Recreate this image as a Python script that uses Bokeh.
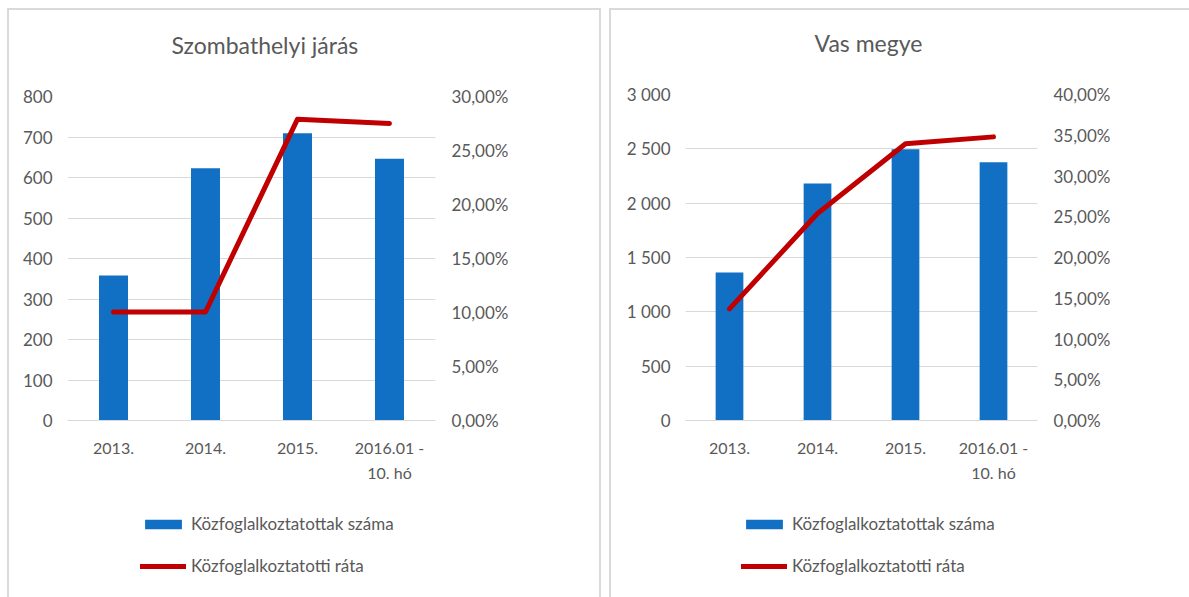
from bokeh.plotting import figure
from bokeh.models import (Range1d, LinearAxis, FixedTicker, Legend, LegendItem,
                          Title, ColumnDataSource, FactorRange)
from bokeh.layouts import row, column
from bokeh.embed import file_html
from bokeh.resources import INLINE

categories = ["2013.", "2014.", "2015.", "2016.01 -\n10. hó"]
series_names = ["Közfoglalkoztatottak száma", "Közfoglalkoztatotti ráta"]

szomb_title = "Szombathelyi járás"
szomb_counts = [358, 623, 709, 646]
szomb_rate = [0.1005, 0.1005, 0.279, 0.275]
szomb_count_ticks = [0, 100, 200, 300, 400, 500, 600, 700, 800]
szomb_count_labels = ["0", "100", "200", "300", "400", "500", "600", "700", "800"]
szomb_rate_ticks = [0.0, 0.05, 0.10, 0.15, 0.20, 0.25, 0.30]
szomb_rate_labels = ["0,00%", "5,00%", "10,00%", "15,00%", "20,00%", "25,00%", "30,00%"]

vas_title = "Vas megye"
vas_counts = [1362, 2181, 2497, 2377]
vas_rate = [0.137, 0.254, 0.3395, 0.348]
vas_count_ticks = [0, 500, 1000, 1500, 2000, 2500, 3000]
vas_count_labels = ["0", "500", "1 000", "1 500", "2 000", "2 500", "3 000"]
vas_rate_ticks = [0.0, 0.05, 0.10, 0.15, 0.20, 0.25, 0.30, 0.35, 0.40]
vas_rate_labels = ["0,00%", "5,00%", "10,00%", "15,00%", "20,00%", "25,00%",
                   "30,00%", "35,00%", "40,00%"]

FONT = "Lato"
TXT = "#595959"
GRID = "#d9d9d9"
BLUE = "#1170C4"
RED = "#C00000"
BORDER = "2px solid #d9d9d9"


def make_chart(title, counts, rate, cticks, clabels, rticks, rlabels,
               width, mb_left, mb_right, mb_top, frame_h, title_offset, legend_x,
               top_styles, bottom_styles, margin):
    src = ColumnDataSource(dict(cat=categories, count=counts, rate=rate))
    chart_h = 490
    p = figure(x_range=FactorRange(*categories), y_range=Range1d(cticks[0], cticks[-1]),
               width=width, height=chart_h, output_backend="svg", toolbar_location=None,
               min_border_left=mb_left, min_border_right=mb_right,
               min_border_top=mb_top, min_border_bottom=chart_h - mb_top - frame_h)
    p.styles = top_styles
    p.outline_line_color = None
    p.background_fill_color = "white"
    p.border_fill_color = "white"

    # spacer title, then the real title (outermost)
    p.add_layout(Title(text=" ", text_font_size="17px", text_font=FONT), "above")
    p.title.text = title
    p.title.text_font = FONT
    p.title.text_font_size = "23px"
    p.title.text_font_style = "normal"
    p.title.text_color = TXT
    p.title.align = "left"
    p.title.offset = title_offset

    p.extra_y_ranges = {"rate": Range1d(rticks[0], rticks[-1])}
    raxis = LinearAxis(y_range_name="rate")
    p.add_layout(raxis, "right")

    laxis = p.yaxis[0]
    laxis.ticker = FixedTicker(ticks=cticks)
    laxis.major_label_overrides = {t: l for t, l in zip(cticks, clabels)}
    raxis.ticker = FixedTicker(ticks=rticks)
    raxis.major_label_overrides = {t: l for t, l in zip(rticks, rlabels)}
    for ax in (laxis, raxis):
        ax.axis_line_color = None
        ax.major_tick_line_color = None
        ax.minor_tick_line_color = None
        ax.major_label_text_font = FONT
        ax.major_label_text_font_size = "17px"
        ax.major_label_text_color = TXT
    laxis.major_label_standoff = 9
    raxis.major_label_standoff = 10

    xa = p.xaxis[0]
    xa.axis_line_color = GRID
    xa.axis_line_width = 1
    xa.major_tick_line_color = None
    xa.minor_tick_line_color = None
    xa.major_label_text_font = FONT
    xa.major_label_text_font_size = "16px"
    xa.major_label_text_color = TXT
    xa.major_label_standoff = 11
    xa.major_label_text_line_height = 1.35

    p.xgrid.grid_line_color = None
    p.ygrid.ticker = FixedTicker(ticks=cticks)
    p.ygrid.grid_line_color = GRID
    p.ygrid.grid_line_width = 1

    p.vbar(x="cat", top="count", width=0.315, source=src,
           fill_color=BLUE, line_color=None)
    p.line(x="cat", y="rate", source=src, y_range_name="rate",
           line_color=RED, line_width=5, line_cap="round", line_join="round")

    # legend panel: the same series again, kept outside this panel's visible range,
    # so that only their legend key shows
    leg_h = 589 - chart_h
    q = figure(x_range=FactorRange(*categories), y_range=Range1d(1e6, 1e6 + 1),
               width=width, height=leg_h, output_backend="svg", toolbar_location=None,
               x_axis_location=None, y_axis_location=None,
               min_border_left=0, min_border_right=0, min_border_top=0, min_border_bottom=0)
    q.styles = bottom_styles
    q.outline_line_color = None
    q.grid.grid_line_color = None
    q.border_fill_color = "white"
    lb = q.vbar(x="cat", top="count", width=0.315, source=src,
                fill_color=BLUE, line_color=None)
    ll = q.line(x="cat", y="rate", source=src,
                line_color=RED, line_width=5, line_cap="round", line_join="round")
    legend = Legend(items=[LegendItem(label=series_names[0], renderers=[lb]),
                           LegendItem(label=series_names[1], renderers=[ll])],
                    location=(legend_x, 21), orientation="vertical",
                    glyph_width=46, glyph_height=12, label_height=12,
                    label_standoff=5, spacing=21, padding=0, margin=0,
                    border_line_color=None, background_fill_alpha=0,
                    label_text_font=FONT, label_text_font_size="17px",
                    label_text_color=TXT)
    q.add_layout(legend, "center")
    return column(p, q, spacing=0, margin=margin)


c1 = make_chart(szomb_title, szomb_counts, szomb_rate, szomb_count_ticks, szomb_count_labels,
                szomb_rate_ticks, szomb_rate_labels,
                width=594, mb_left=58, mb_right=168, mb_top=86, frame_h=324,
                title_offset=104, legend_x=73,
                top_styles={"border-top": BORDER, "border-left": BORDER, "border-right": BORDER},
                bottom_styles={"border-left": BORDER, "border-right": BORDER},
                margin=(8, 0, 0, 7))
c2 = make_chart(vas_title, vas_counts, vas_rate, vas_count_ticks, vas_count_labels,
                vas_rate_ticks, vas_rate_labels,
                width=580, mb_left=74, mb_right=154, mb_top=84, frame_h=326,
                title_offset=129, legend_x=56,
                top_styles={"border-top": BORDER, "border-left": BORDER},
                bottom_styles={"border-left": BORDER},
                margin=(8, 0, 0, 0))

layout = row(c1, c2, spacing=8)
open("out.html", "w").write(file_html(layout, INLINE))
